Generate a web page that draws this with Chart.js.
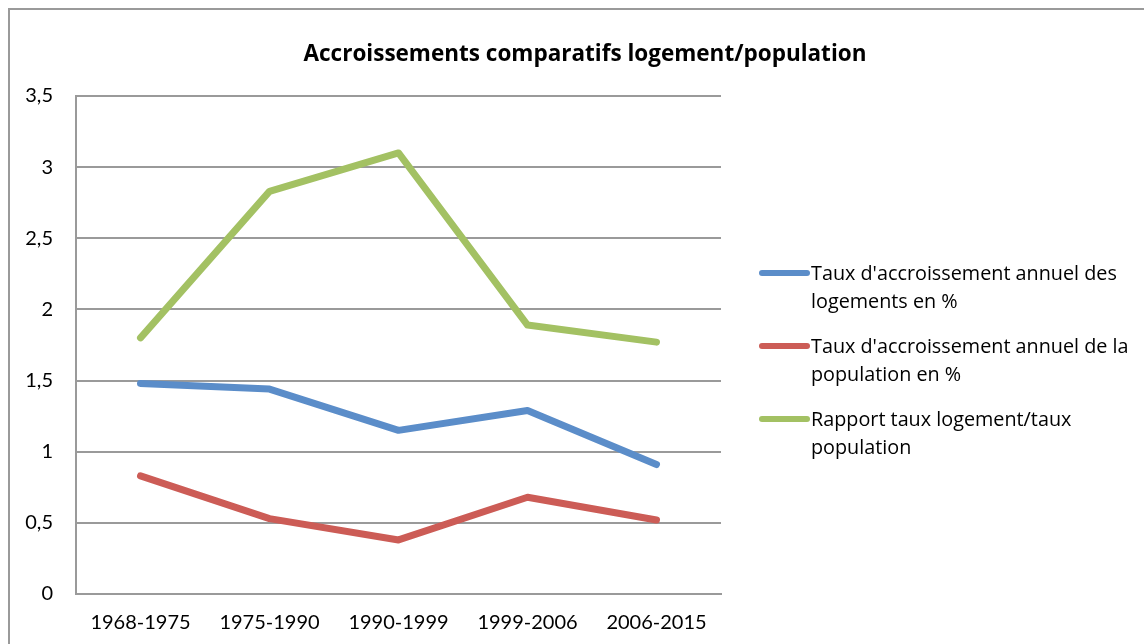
<!DOCTYPE html>
<html>
<head>
<meta charset="utf-8">
<script src="https://cdn.jsdelivr.net/npm/chart.js@4/dist/chart.umd.min.js"></script>
<style>
html,body{margin:0;padding:0;background:#fff;}
#wrap{width:1144px;height:644px;position:relative;}
</style>
</head>
<body>
<div id="wrap"><canvas id="c" width="1144" height="644"></canvas></div>
<script>
const categories = ['1968-1975', '1975-1990', '1990-1999', '1999-2006', '2006-2015'];
const logements = [1.48, 1.44, 1.15, 1.29, 0.91];
const population = [0.83, 0.53, 0.38, 0.68, 0.52];
const rapport = [1.80, 2.83, 3.10, 1.89, 1.77];
const seriesNames = [
  ["Taux d'accroissement annuel des", "logements en %"],
  ["Taux d'accroissement annuel de la", "population en %"],
  ["Rapport taux logement/taux", "population"]
];
const seriesColors = ['#5B8DC9', '#CC5C56', '#A3C163'];
const yTickLabels = ['0', '0,5', '1', '1,5', '2', '2,5', '3', '3,5'];
const chartTitle = 'Accroissements comparatifs logement/population';

const FONT = 'Lato, "Open Sans", sans-serif';
const FONT2 = '"Open Sans", Lato, sans-serif';

const framePlugin = {
  id: 'frame',
  beforeDraw(chart) {
    const ctx = chart.ctx;
    ctx.save();
    ctx.fillStyle = '#ffffff';
    ctx.fillRect(0, 0, chart.width, chart.height);
    ctx.strokeStyle = '#9a9a9a';
    ctx.lineWidth = 2;
    ctx.strokeRect(9, 9, chart.width + 50, chart.height + 50);
    ctx.restore();
  },
  afterDraw(chart) {
    const ctx = chart.ctx;
    ctx.save();
    // title
    ctx.fillStyle = '#000';
    ctx.font = 'bold 22.5px ' + FONT2;
    ctx.textAlign = 'center';
    ctx.textBaseline = 'alphabetic';
    ctx.fillText(chartTitle, 585, 61);
    // legend
    ctx.font = '19.8px ' + FONT2;
    ctx.textAlign = 'left';
    ctx.textBaseline = 'middle';
    chart.data.datasets.forEach((ds, i) => {
      const y0 = 273 + 73 * i;
      ctx.strokeStyle = ds.borderColor;
      ctx.lineWidth = 6;
      ctx.lineCap = 'round';
      ctx.beginPath();
      ctx.moveTo(762, y0);
      ctx.lineTo(807, y0);
      ctx.stroke();
      ctx.fillStyle = '#000';
      ds.legendLines.forEach((t, j) => ctx.fillText(t, 811, y0 + 1 + 28 * j));
    });
    ctx.restore();
  }
};

const datasets = [logements, population, rapport].map((vals, i) => ({
  label: seriesNames[i].join(' '),
  legendLines: seriesNames[i],
  data: vals,
  borderColor: seriesColors[i],
  backgroundColor: seriesColors[i],
  borderWidth: 7,
  borderCapStyle: 'round',
  borderJoinStyle: 'round',
  pointRadius: 0,
  pointHoverRadius: 0,
  tension: 0,
  fill: false
}));

new Chart(document.getElementById('c'), {
  type: 'line',
  data: { labels: categories, datasets: datasets },
  plugins: [framePlugin],
  options: {
    responsive: false,
    animation: false,
    events: [],
    layout: { padding: { left: 0, right: 423, top: 96, bottom: 0 } },
    plugins: { legend: { display: false }, title: { display: false }, tooltip: { enabled: false } },
    scales: {
      x: {
        offset: true,
        grid: { display: true, drawOnChartArea: false, drawTicks: false },
        border: { display: true, color: '#9a9a9a', width: 2 },
        ticks: { color: '#000', font: { family: FONT, size: 20 }, padding: 17, maxRotation: 0 },
        afterFit(scale) { scale.height = 50; }
      },
      y: {
        min: 0,
        max: 3.5,
        ticks: {
          stepSize: 0.5,
          color: '#000',
          font: { family: FONT, size: 20 },
          padding: 23,
          callback: (v, idx) => yTickLabels[idx]
        },
        grid: { color: '#9a9a9a', lineWidth: 2, drawTicks: false },
        border: { display: true, color: '#9a9a9a', width: 2 },
        afterFit(scale) { scale.width = 76; }
      }
    }
  }
});
</script>
</body>
</html>
